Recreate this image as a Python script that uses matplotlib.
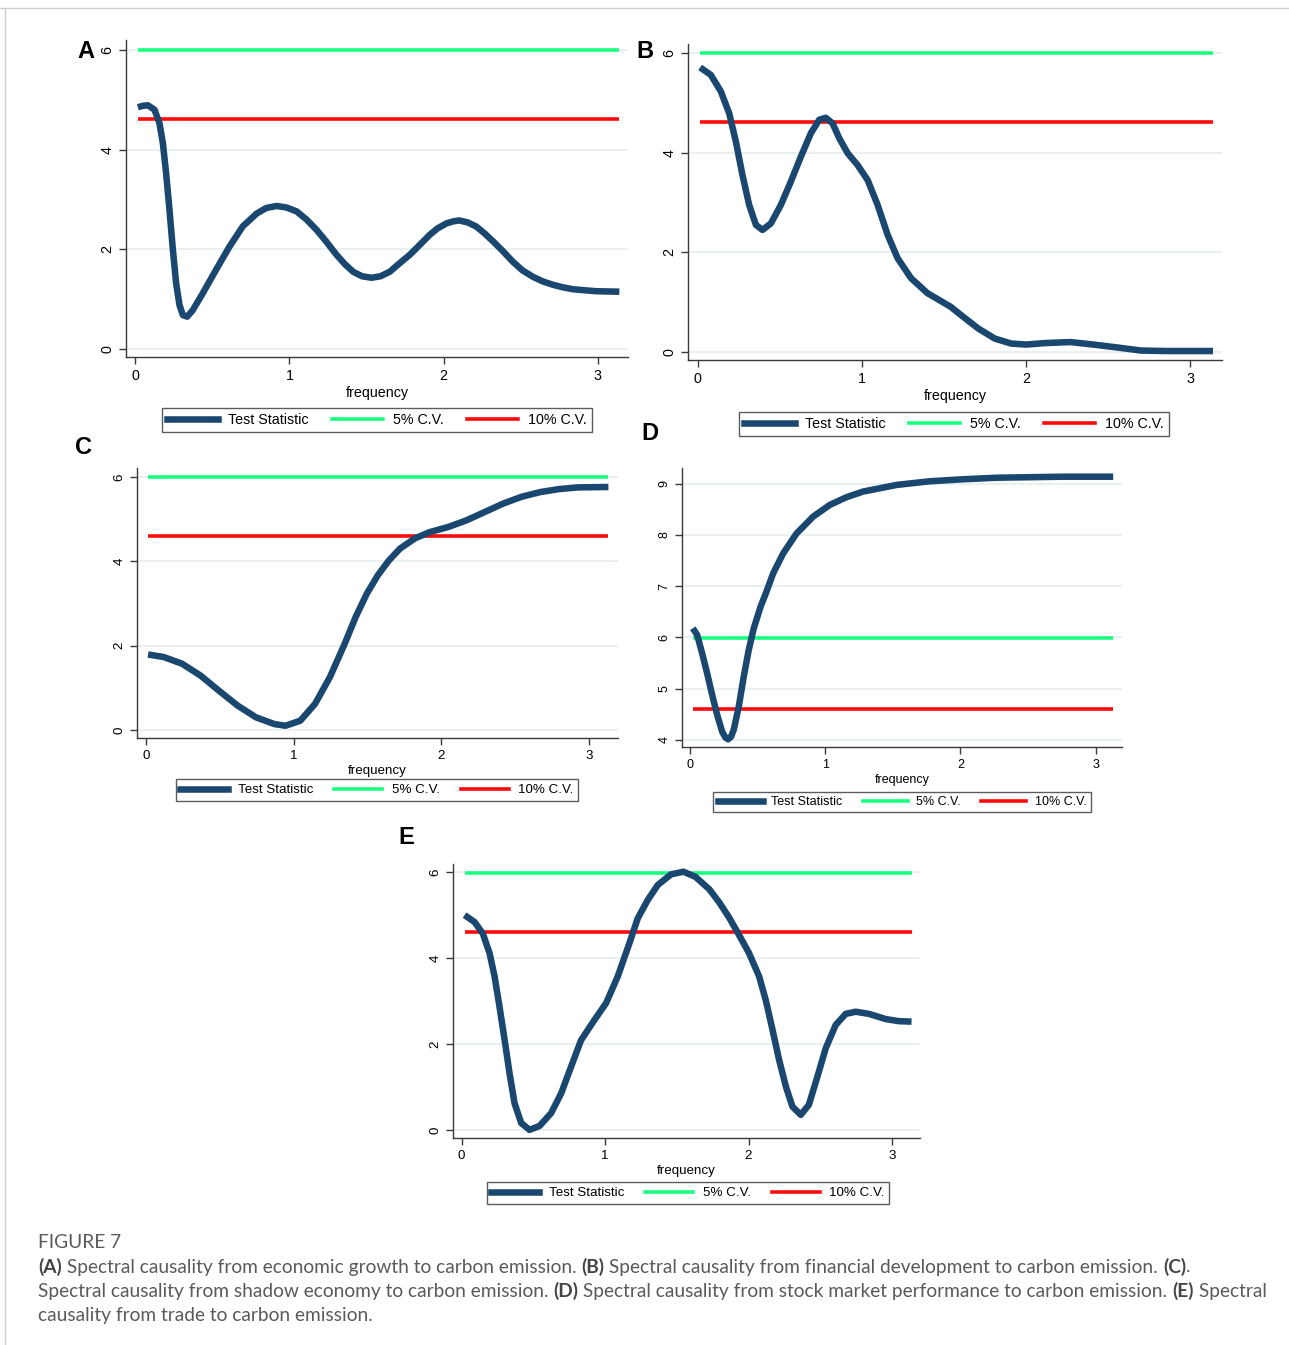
import numpy as np
import matplotlib.pyplot as plt
from matplotlib.lines import Line2D

# ──────────────────────────────────────────
# Data (frequency, test statistic)
# ──────────────────────────────────────────
freq_a = [0.017, 0.05, 0.082, 0.125, 0.157, 0.179, 0.20, 0.222, 0.244, 0.265, 0.287,
          0.309, 0.337, 0.373, 0.438, 0.524, 0.61, 0.697, 0.788, 0.85, 0.917, 0.98,
          1.047, 1.11, 1.176, 1.24, 1.305, 1.36, 1.413, 1.47, 1.532, 1.59, 1.65,
          1.71, 1.78, 1.845, 1.909, 1.96, 2.017, 2.06, 2.10, 2.155, 2.21, 2.265,
          2.32, 2.385, 2.449, 2.51, 2.578, 2.64, 2.707, 2.77, 2.837, 2.91, 2.988,
          3.06, 3.139]
stat_a = [4.85, 4.88, 4.89, 4.80, 4.53, 4.13, 3.53, 2.79, 1.99, 1.32, 0.88,
          0.68, 0.65, 0.78, 1.12, 1.59, 2.05, 2.46, 2.72, 2.83, 2.87, 2.84,
          2.76, 2.60, 2.39, 2.15, 1.89, 1.70, 1.55, 1.46, 1.43, 1.46, 1.55,
          1.71, 1.89, 2.09, 2.29, 2.42, 2.52, 2.56, 2.58, 2.54, 2.46, 2.32,
          2.16, 1.96, 1.75, 1.58, 1.45, 1.36, 1.29, 1.24, 1.20, 1.18, 1.16,
          1.155, 1.15]

freq_b = [0.014, 0.079, 0.14, 0.191, 0.232, 0.272, 0.313, 0.354, 0.394, 0.445, 0.506,
          0.567, 0.628, 0.689, 0.74, 0.78, 0.821, 0.862, 0.913, 0.974, 1.035, 1.096,
          1.157, 1.218, 1.30, 1.40, 1.54, 1.62, 1.71, 1.81, 1.91, 2.0, 2.12, 2.27,
          2.41, 2.56, 2.70, 2.85, 3.14]
stat_b = [5.71, 5.56, 5.23, 4.79, 4.22, 3.55, 2.95, 2.55, 2.45, 2.58, 2.95,
          3.42, 3.92, 4.39, 4.66, 4.70, 4.59, 4.29, 3.99, 3.75, 3.45, 2.95,
          2.35, 1.88, 1.48, 1.18, 0.91, 0.70, 0.47, 0.27, 0.17, 0.15, 0.18, 0.20,
          0.15, 0.09, 0.03, 0.02, 0.02]

freq_c = [0.015, 0.12, 0.245, 0.37, 0.495, 0.62, 0.745, 0.87, 0.945, 1.045, 1.145,
          1.245, 1.345, 1.42, 1.495, 1.57, 1.645, 1.72, 1.82, 1.92, 2.045, 2.17,
          2.295, 2.42, 2.545, 2.67, 2.795, 2.92, 3.13]
stat_c = [1.79, 1.73, 1.57, 1.29, 0.93, 0.58, 0.30, 0.14, 0.10, 0.22, 0.62,
          1.25, 2.04, 2.68, 3.23, 3.67, 4.02, 4.30, 4.54, 4.69, 4.81, 4.97,
          5.17, 5.37, 5.53, 5.64, 5.71, 5.75, 5.76]

freq_d = [0.02, 0.052, 0.089, 0.126, 0.163, 0.20, 0.237, 0.26, 0.281, 0.303, 0.323,
          0.36, 0.397, 0.434, 0.471, 0.521, 0.56, 0.614, 0.688, 0.787, 0.91, 1.034,
          1.157, 1.28, 1.53, 1.77, 2.02, 2.27, 2.51, 2.76, 3.13]
stat_d = [6.18, 6.05, 5.69, 5.30, 4.88, 4.49, 4.16, 4.05, 4.01, 4.06, 4.20,
          4.65, 5.24, 5.76, 6.18, 6.60, 6.86, 7.25, 7.64, 8.03, 8.36, 8.59,
          8.74, 8.85, 8.98, 9.05, 9.09, 9.12, 9.13, 9.14, 9.14]

freq_e = [0.021, 0.09, 0.148, 0.195, 0.23, 0.264, 0.30, 0.334, 0.369, 0.415, 0.473,
          0.543, 0.624, 0.694, 0.763, 0.833, 0.926, 1.007, 1.088, 1.169, 1.227, 1.297,
          1.367, 1.46, 1.547, 1.63, 1.727, 1.795, 1.865, 1.935, 2.004, 2.074, 2.12,
          2.167, 2.213, 2.26, 2.306, 2.364, 2.42, 2.48, 2.538, 2.607, 2.677, 2.747,
          2.839, 2.955, 3.048, 3.136]
stat_e = [5.00, 4.84, 4.57, 4.11, 3.57, 2.87, 2.09, 1.32, 0.62, 0.16, 0.00,
          0.09, 0.39, 0.85, 1.47, 2.09, 2.56, 2.95, 3.57, 4.34, 4.92, 5.35,
          5.70, 5.95, 6.01, 5.89, 5.60, 5.30, 4.94, 4.53, 4.11, 3.57, 3.02,
          2.33, 1.63, 1.01, 0.54, 0.35, 0.58, 1.24, 1.90, 2.44, 2.70, 2.75,
          2.70, 2.58, 2.53, 2.52]

cv5 = 5.99   # 5% critical value
cv10 = 4.61  # 10% critical value

legend_labels = ["Test Statistic", "5% C.V.", "10% C.V."]
panel_letters = ["A", "B", "C", "D", "E"]

caption_title = "FIGURE 7"
caption_lines = [
    [("(A)", True), (" Spectral causality from economic growth to carbon emission. ", False),
     ("(B)", True), (" Spectral causality from financial development to carbon emission. ", False),
     ("(C)", True), (".", False)],
    [("Spectral causality from shadow economy to carbon emission. ", False),
     ("(D)", True), (" Spectral causality from stock market performance to carbon emission. ", False),
     ("(E)", True), (" Spectral", False)],
    [("causality from trade to carbon emission.", False)],
]

NAVY = "#1a476f"
GREEN = "#1aff7f"
RED = "#ff0a0a"
GRID = "#e6eff1"

W, H = 1289, 1345
plt.rcParams['font.family'] = ['Liberation Sans', 'DejaVu Sans']

fig = plt.figure(figsize=(W / 100, H / 100), dpi=100)


def px_axes(left, top, right, bottom):
    return fig.add_axes([left / W, 1 - bottom / H, (right - left) / W, (bottom - top) / H])


def draw_panel(box, freq, stat, ylim, yticks, fs, leg_center, leg_fs, letter, letter_pos):
    ax = px_axes(*box)
    freq = np.asarray(freq)
    ax.plot(freq, stat, color=NAVY, lw=4.7, solid_capstyle='butt',
            solid_joinstyle='round', zorder=3)
    ax.plot(freq, np.full_like(freq, cv5), color=GREEN, lw=2.6, solid_capstyle='butt', zorder=2)
    ax.plot(freq, np.full_like(freq, cv10), color=RED, lw=2.6, solid_capstyle='butt', zorder=2)

    ax.set_xlim(-0.06, 3.195)
    ax.set_ylim(*ylim)
    ax.set_xticks([0, 1, 2, 3])
    ax.set_yticks(yticks)
    ax.grid(axis='y', color=GRID, lw=1.3, zorder=0)
    ax.set_axisbelow(True)
    for s in ['top', 'right']:
        ax.spines[s].set_visible(False)
    for s in ['left', 'bottom']:
        ax.spines[s].set_color('#3a3a3a')
        ax.spines[s].set_linewidth(1.0)
    ax.tick_params(colors='#3a3a3a', labelcolor='black', labelsize=fs, length=5, width=1.0)
    for lab in ax.get_yticklabels():
        lab.set_rotation(90)
        lab.set_va('center')
    ax.set_xlabel("frequency", fontsize=fs, labelpad=2)

    handles = [Line2D([], [], color=NAVY, lw=4.7),
               Line2D([], [], color=GREEN, lw=2.6),
               Line2D([], [], color=RED, lw=2.6)]
    leg = ax.legend(handles, legend_labels, loc='center',
                    bbox_to_anchor=(leg_center[0] / W, 1 - leg_center[1] / H),
                    bbox_transform=fig.transFigure, ncol=3, fontsize=leg_fs,
                    frameon=True, fancybox=False, handlelength=3.6,
                    columnspacing=1.6, handletextpad=0.7, borderpad=0.35)
    leg.get_frame().set_edgecolor('#333333')
    leg.get_frame().set_linewidth(1.0)

    fig.text(letter_pos[0] / W, 1 - letter_pos[1] / H, letter, fontsize=17,
             fontweight='bold', ha='center', va='center')
    return ax


draw_panel((126, 40, 628, 357), freq_a, stat_a, (-0.16, 6.2), [0, 2, 4, 6], 10.3,
           (377, 420), 10.3, panel_letters[0], (86, 52))
draw_panel((688, 44, 1222, 360), freq_b, stat_b, (-0.16, 6.18), [0, 2, 4, 6], 10.3,
           (954, 424), 10.3, panel_letters[1], (645, 52))
draw_panel((137, 468, 618, 738), freq_c, stat_c, (-0.19, 6.21), [0, 2, 4, 6], 9.6,
           (377, 790), 9.6, panel_letters[2], (84, 447))
draw_panel((682, 468, 1122, 747), freq_d, stat_d, (3.86, 9.31), [4, 5, 6, 7, 8, 9], 9.0,
           (902, 802), 9.0, panel_letters[3], (650, 433))
draw_panel((453, 864, 920, 1138), freq_e, stat_e, (-0.19, 6.19), [0, 2, 4, 6], 9.6,
           (688, 1193), 9.6, panel_letters[4], (406, 838))

# thin page frame (top and left)
fig.add_artist(Line2D([0, 1], [1 - 8 / H, 1 - 8 / H], transform=fig.transFigure,
                      color='#cfcfcf', lw=1.0))
fig.add_artist(Line2D([5 / W, 5 / W], [0, 1 - 8 / H], transform=fig.transFigure,
                      color='#cfcfcf', lw=1.0))

# ──────────────────────────────────────────
# Caption with bold panel markers
# ──────────────────────────────────────────
CAP_FONT = ['Lato', 'DejaVu Sans']
CAP_FS = 13.8
fig.text(38 / W, 1 - 1242 / H, caption_title, fontsize=CAP_FS, color='#5a5a5a',
         family=CAP_FONT, va='center')

renderer = fig.canvas.get_renderer()
for i, segments in enumerate(caption_lines):
    x = 38
    y = 1 - (1267 + 24 * i) / H
    for text, bold in segments:
        t = fig.text(x / W, y, text, fontsize=CAP_FS, family=CAP_FONT,
                     fontweight='bold' if bold else 'normal',
                     color='#444444' if bold else '#5a5a5a', va='center')
        bb = t.get_window_extent(renderer=renderer)
        x = bb.x1

fig.savefig("out.png", dpi=100)
